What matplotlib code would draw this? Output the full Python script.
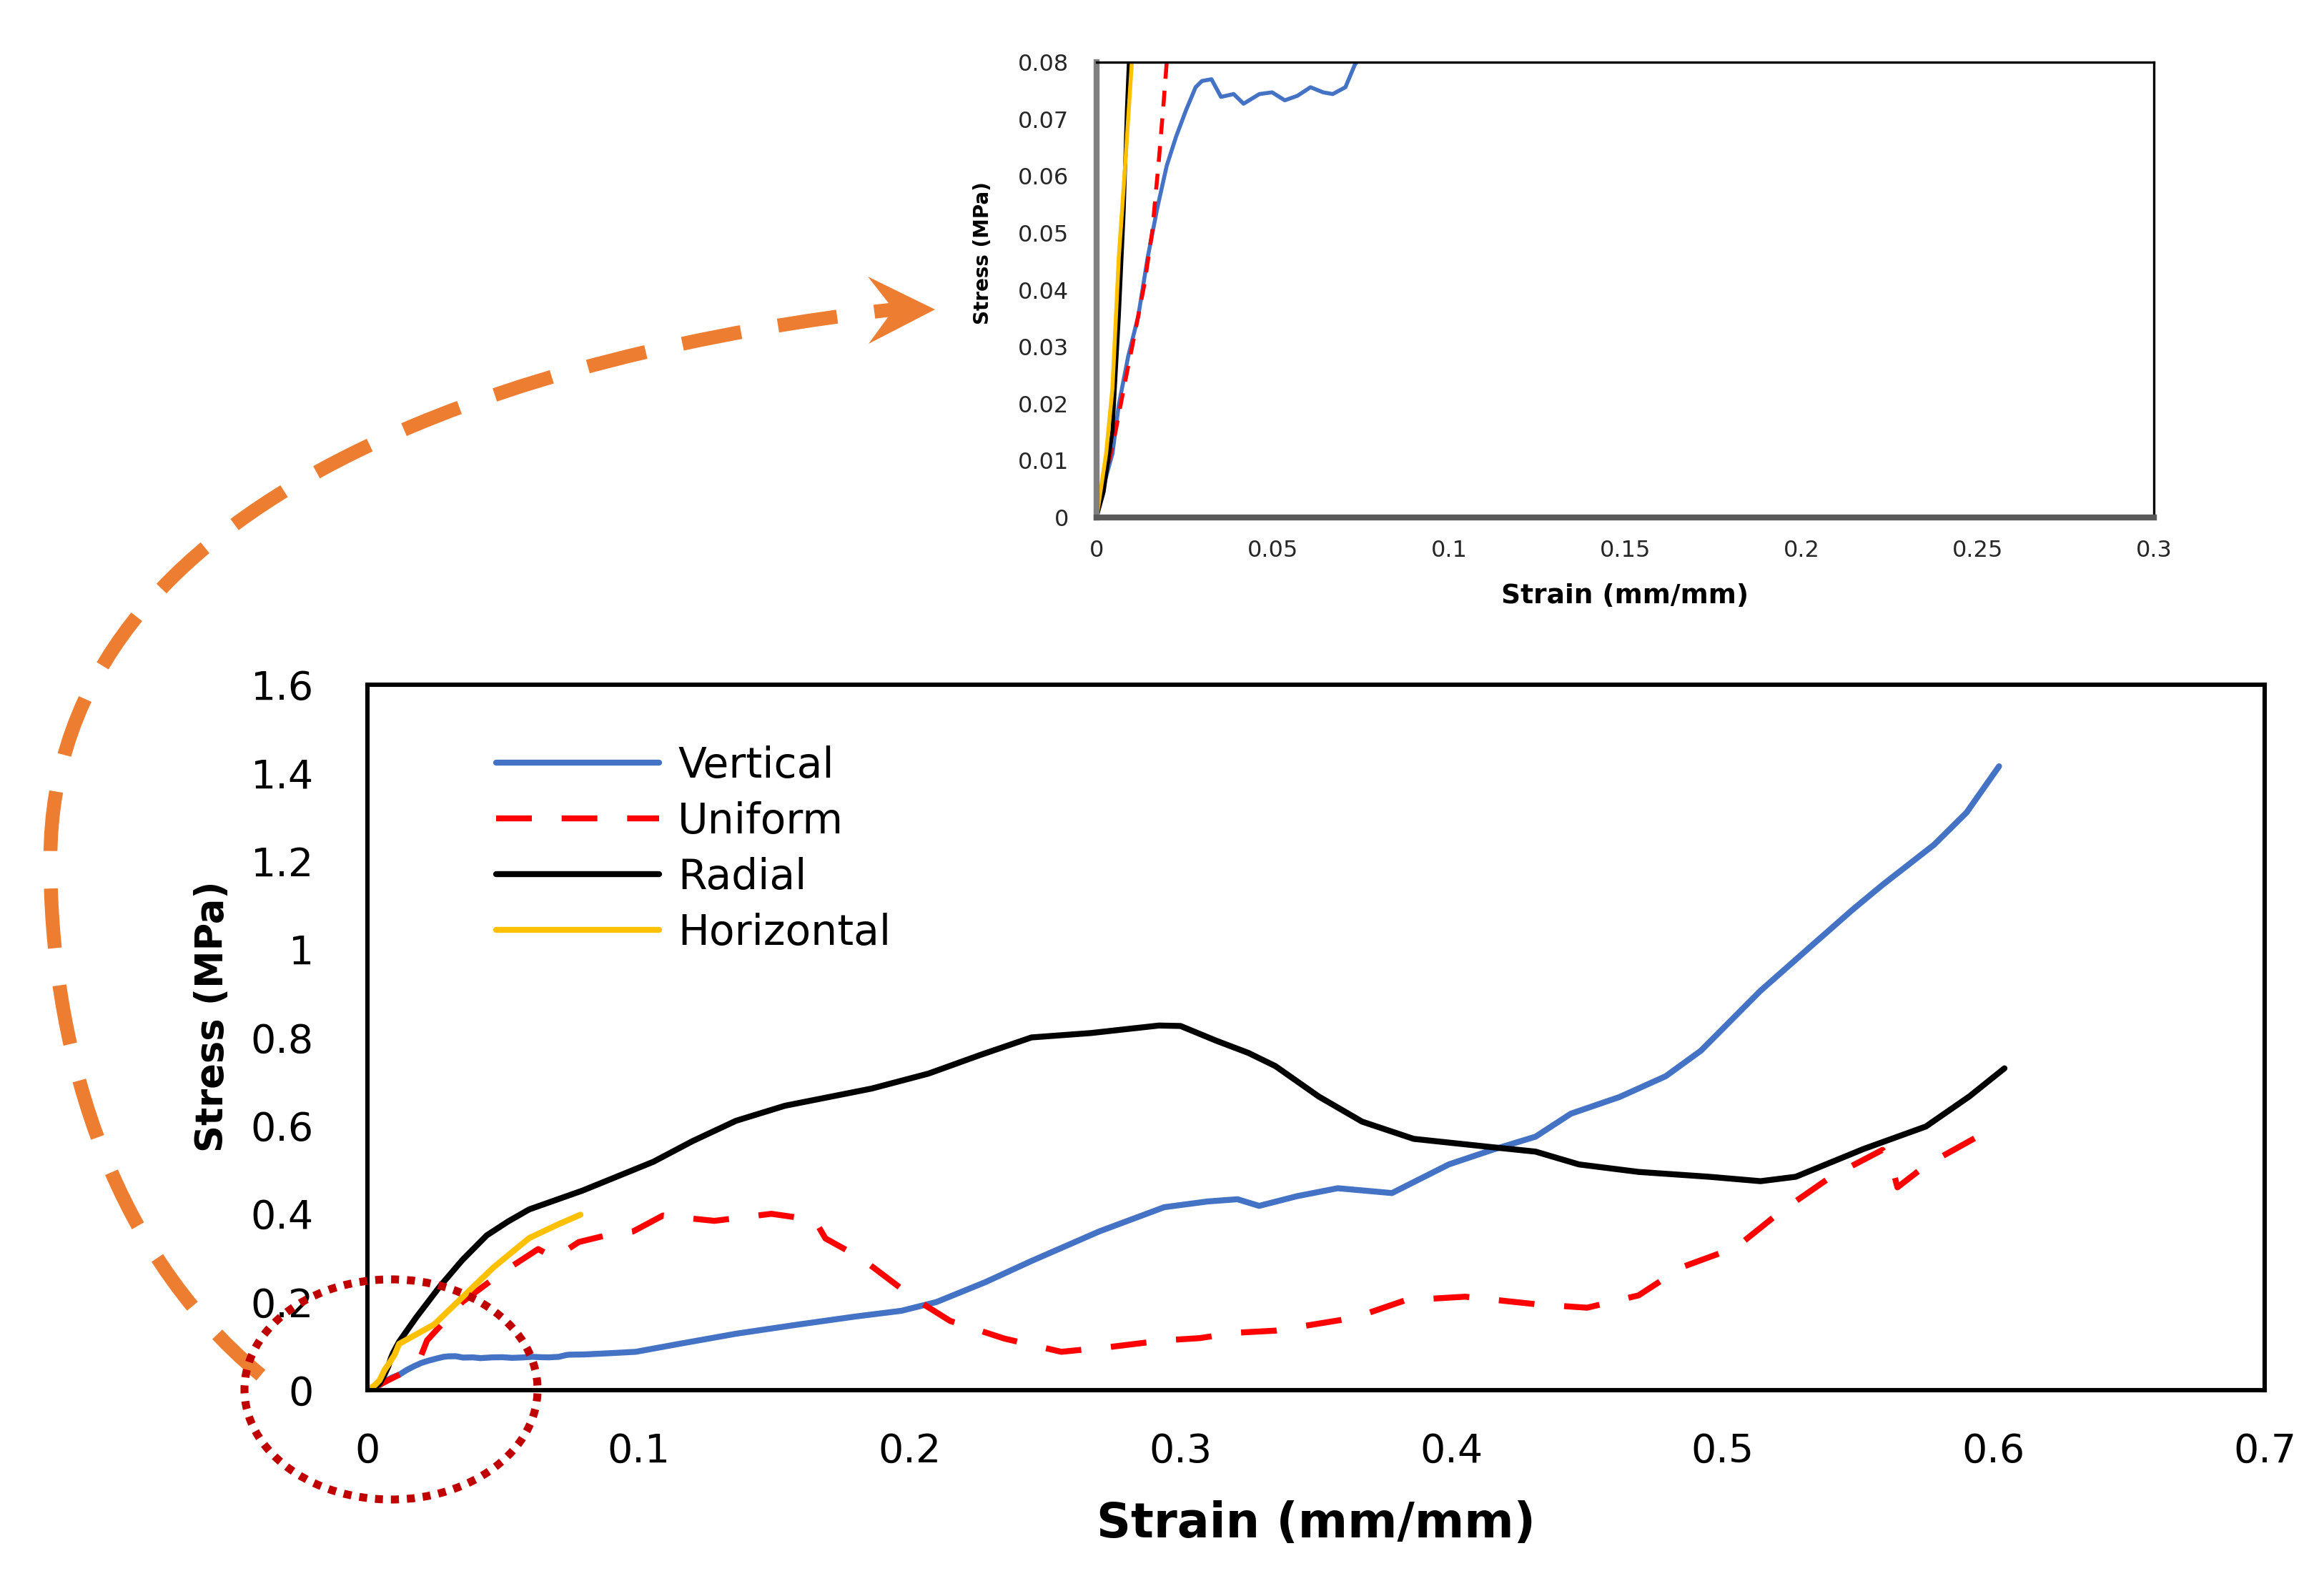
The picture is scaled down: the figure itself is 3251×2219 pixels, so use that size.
"""
Stress-strain curves for the four infill patterns, with a zoomed inset of the
initial (elastic) region. Output: out.png
"""
import matplotlib
matplotlib.use("Agg")
import matplotlib.pyplot as plt
from matplotlib import font_manager
from matplotlib.patches import Ellipse, PathPatch, Polygon
from matplotlib.path import Path
from matplotlib.ticker import FuncFormatter

W, H = 3251, 2219
DPI = 200

# ---- data ----
vertical_strain = [0, 0.0009, 0.0045, 0.0063, 0.009, 0.0118, 0.0145, 0.0172, 0.0199, 0.0226,
                   0.0254, 0.0281, 0.0299, 0.0326, 0.0353, 0.0389, 0.0417, 0.0462, 0.0498, 0.0534,
                   0.057, 0.0607, 0.0643, 0.067, 0.0706, 0.0733, 0.0745, 0.08, 0.09, 0.099,
                   0.115, 0.136, 0.158, 0.18, 0.197, 0.21, 0.228, 0.245, 0.27, 0.294,
                   0.31, 0.321, 0.329, 0.343, 0.358, 0.378, 0.399, 0.415, 0.431, 0.444,
                   0.462, 0.479, 0.492, 0.514, 0.533, 0.548, 0.559, 0.578, 0.59, 0.602]
vertical_stress = [0, 0.0032, 0.0112, 0.0198, 0.0284, 0.0353, 0.0457, 0.0543, 0.0618, 0.067,
                   0.0716, 0.0756, 0.0767, 0.077, 0.0739, 0.0744, 0.0727, 0.0744, 0.0747, 0.0733,
                   0.0741, 0.0756, 0.0747, 0.0744, 0.0756, 0.0796, 0.0805, 0.081, 0.084, 0.087,
                   0.105, 0.128, 0.148, 0.167, 0.18, 0.20, 0.245, 0.293, 0.36, 0.415,
                   0.428, 0.433, 0.418, 0.44, 0.458, 0.447, 0.512, 0.545, 0.575, 0.627,
                   0.665, 0.712, 0.77, 0.906, 1.009, 1.09, 1.146, 1.237, 1.31, 1.415]

uniform_strain = [0, 0.0054, 0.0081, 0.0109, 0.0136, 0.0158, 0.0177, 0.019, 0.0199, 0.022,
                  0.035, 0.049, 0.058, 0.063, 0.069, 0.078, 0.088, 0.098, 0.109, 0.128,
                  0.149, 0.165, 0.169, 0.182, 0.202, 0.215, 0.235, 0.256, 0.274, 0.294,
                  0.307, 0.32, 0.335, 0.364, 0.383, 0.405, 0.431, 0.45, 0.469, 0.485,
                  0.505, 0.521, 0.54, 0.559, 0.562, 0.5645, 0.575, 0.597]
uniform_stress = [0, 0.0152, 0.0239, 0.0325, 0.0411, 0.0503, 0.063, 0.0727, 0.08, 0.113,
                  0.20, 0.264, 0.30, 0.32, 0.30, 0.336, 0.351, 0.36, 0.396, 0.384,
                  0.40, 0.386, 0.344, 0.30, 0.207, 0.157, 0.117, 0.087, 0.098, 0.113,
                  0.118, 0.13, 0.135, 0.164, 0.204, 0.212, 0.195, 0.187, 0.215, 0.279,
                  0.324, 0.403, 0.484, 0.545, 0.52, 0.46, 0.51, 0.585]

radial_strain = [0, 0.002, 0.0045, 0.0063, 0.0077, 0.0086, 0.0095, 0.0117, 0.018, 0.0268,
                 0.035, 0.044, 0.052, 0.0597, 0.0795, 0.1055, 0.12, 0.136, 0.154, 0.186,
                 0.207, 0.226, 0.245, 0.267, 0.292, 0.30, 0.313, 0.325, 0.335, 0.351,
                 0.367, 0.386, 0.412, 0.431, 0.447, 0.469, 0.495, 0.514, 0.527, 0.552,
                 0.575, 0.591, 0.604]
radial_stress = [0, 0.0045, 0.0152, 0.0353, 0.054, 0.0716, 0.085, 0.11, 0.165, 0.236,
                 0.295, 0.351, 0.383, 0.41, 0.453, 0.518, 0.565, 0.611, 0.645, 0.684,
                 0.718, 0.76, 0.80, 0.81, 0.827, 0.826, 0.793, 0.765, 0.735, 0.666,
                 0.609, 0.57, 0.553, 0.541, 0.512, 0.495, 0.484, 0.474, 0.484, 0.547,
                 0.598, 0.666, 0.73]

horizontal_strain = [0, 0.0027, 0.0045, 0.0063, 0.0081, 0.01, 0.0117, 0.0246, 0.0356, 0.0466,
                     0.0597, 0.07, 0.0786]
horizontal_stress = [0, 0.0112, 0.0227, 0.0457, 0.0618, 0.08, 0.105, 0.149, 0.214, 0.279,
                     0.345, 0.375, 0.398]

main_xticks = [0, 0.1, 0.2, 0.3, 0.4, 0.5, 0.6, 0.7]
main_yticks = [0, 0.2, 0.4, 0.6, 0.8, 1.0, 1.2, 1.4, 1.6]
inset_xticks = [0, 0.05, 0.1, 0.15, 0.2, 0.25, 0.3]
inset_yticks = [0, 0.01, 0.02, 0.03, 0.04, 0.05, 0.06, 0.07, 0.08]

SERIES = [
    ("Vertical", vertical_strain, vertical_stress, "#4472C4", "solid"),
    ("Uniform", uniform_strain, uniform_stress, "#FF0000", "dashed"),
    ("Radial", radial_strain, radial_stress, "#000000", "solid"),
    ("Horizontal", horizontal_strain, horizontal_stress, "#FFC000", "solid"),
]

# condensed font for the big y label if available
installed = {f.name for f in font_manager.fontManager.ttflist}
if "Liberation Sans Narrow" in installed:
    YLAB_FONT, YLAB_SIZE = "Liberation Sans Narrow", 26
else:
    YLAB_FONT, YLAB_SIZE = "DejaVu Sans", 19

plt.rcParams.update({"font.family": "DejaVu Sans"})
fmt = FuncFormatter(lambda v, p: f"{v:g}")


def px(x, y):
    """full-size pixel position -> figure fraction"""
    return (x / W, 1 - y / H)


fig = plt.figure(figsize=(W / DPI, H / DPI), dpi=DPI)

# ---- main axes ----
ax = fig.add_axes([514 / W, 1 - 1945 / H, (3168 - 514) / W, (1945 - 958) / H])
for name, x, y, c, ls in SERIES:
    dash = (0, (6, 5)) if ls == "dashed" else "-"
    ax.plot(x, y, color=c, lw=3, linestyle=dash, label=name, solid_capstyle="round")
ax.set_xlim(0, 0.7)
ax.set_ylim(0, 1.6)
ax.set_xticks(main_xticks)
ax.set_yticks(main_yticks)
ax.xaxis.set_major_formatter(fmt)
ax.yaxis.set_major_formatter(fmt)
ax.tick_params(length=0, labelsize=20)
ax.tick_params(axis="y", pad=27)
ax.tick_params(axis="x", pad=21)
for s in ax.spines.values():
    s.set_linewidth(2.2)
    s.set_color("black")
ax.set_xlabel("Strain (mm/mm)", fontsize=24, fontweight="bold")
ax.xaxis.set_label_coords(0.5, -0.156)
ax.set_ylabel("Stress (MPa)", fontsize=YLAB_SIZE, fontweight="bold", family=YLAB_FONT)
ax.yaxis.set_label_coords(-0.072, 0.53)
ax.legend(loc="upper left", bbox_to_anchor=(0.068, 0.914), frameon=False, fontsize=21,
          handlelength=3.9, handletextpad=0.45, labelspacing=0.36, borderpad=0,
          borderaxespad=0)

# ---- inset (initial region) ----
ins = fig.add_axes([1534 / W, 1 - 724 / H, (3013 - 1534) / W, (724 - 87) / H])
for name, x, y, c, ls in SERIES:
    dash = (0, (4, 3)) if ls == "dashed" else "-"
    ins.plot(x, y, color=c, lw=2, linestyle=dash)
ins.set_xlim(0, 0.3)
ins.set_ylim(0, 0.08)
ins.set_xticks(inset_xticks)
ins.set_yticks(inset_yticks)
ins.xaxis.set_major_formatter(fmt)
ins.yaxis.set_major_formatter(fmt)
ins.tick_params(length=0, labelsize=11.5, labelcolor="#262626")
ins.tick_params(axis="y", pad=14)
ins.tick_params(axis="x", pad=11)
ins.spines["left"].set_color("#7F7F7F")
ins.spines["left"].set_linewidth(3)
ins.spines["bottom"].set_color("#595959")
ins.spines["bottom"].set_linewidth(3)
ins.spines["top"].set_linewidth(1.2)
ins.spines["right"].set_linewidth(1.2)
ins.set_xlabel("Strain (mm/mm)", fontsize=13.5, fontweight="bold")
ins.xaxis.set_label_coords(0.5, -0.145)
ins.set_ylabel("Stress (MPa)", fontsize=10, fontweight="bold")
ins.yaxis.set_label_coords(-0.098, 0.58)

# ---- orange dashed arrow from the circled region to the inset ----
orange = "#ED7D31"
verts = [px(365, 1924), px(145, 1742), px(70.5, 1451), px(70.5, 1202.5),
         px(70.5, 684), px(750, 490), px(1250, 433)]
codes = [Path.MOVETO] + [Path.CURVE4] * 6
fig.patches.append(PathPatch(Path(verts, codes), transform=fig.transFigure, fill=False,
                             edgecolor=orange, lw=7, linestyle=(0, (4.3, 2.7)),
                             capstyle="butt"))
head = [px(1308, 433), px(1214, 387), px(1250, 433), px(1215, 481)]
fig.patches.append(Polygon(head, closed=True, transform=fig.transFigure,
                           facecolor=orange, edgecolor="none"))

# ---- dotted circle around the origin ----
cx, cy = px(547, 1944)
fig.patches.append(Ellipse((cx, cy), 410 / W, 308 / H, transform=fig.transFigure,
                           fill=False, edgecolor="#C00000", lw=4,
                           linestyle=(0, (1, 1))))

fig.savefig("out.png", dpi=DPI)
